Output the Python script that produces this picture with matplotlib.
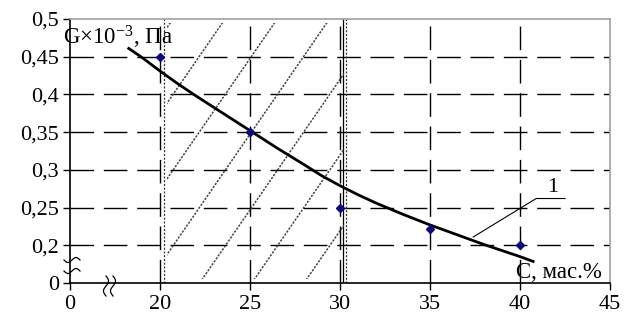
import numpy as np
import matplotlib
matplotlib.use("Agg")
import matplotlib.pyplot as plt
from matplotlib.lines import Line2D
from matplotlib.patches import Rectangle

plt.rcParams['font.family'] = ['Liberation Serif', 'DejaVu Serif']
plt.rcParams['mathtext.fontset'] = 'custom'
plt.rcParams['mathtext.rm'] = 'Liberation Serif'
plt.rcParams['mathtext.it'] = 'Liberation Serif'
plt.rcParams['lines.scale_dashes'] = False

# ---- data ----
conc_points = [20, 25, 30, 35, 40]
g_points = [0.45, 0.35, 0.25, 0.222, 0.2]

curve_conc = [18.2, 19.0, 20.0, 21.0, 22.0, 23.5, 25.0, 26.5, 28.0, 29.0, 30.0,
              31.0, 32.0, 33.5, 35.0, 36.5, 38.0, 39.0, 40.0, 40.8]
curve_g = [0.462, 0.449, 0.431, 0.414, 0.398, 0.375, 0.352, 0.329, 0.307, 0.292, 0.279,
           0.267, 0.256, 0.241, 0.227, 0.214, 0.201, 0.193, 0.185, 0.178]

x_tick_vals = [15, 20, 25, 30, 35, 40, 45]
x_tick_labels = ['0', '20', '25', '30', '35', '40', '45']
y_tick_vals = [0.15, 0.2, 0.25, 0.3, 0.35, 0.4, 0.45, 0.5]
y_tick_labels = ['0', '0,2', '0,25', '0,3', '0,35', '0,4', '0,45', '0,5']

zone_left = 20.22
zone_right = 30.35

# ---- figure ----
W, H = 632, 320
fig = plt.figure(figsize=(W / 100, H / 100), dpi=100)
L, R, T, B = 70, 610, 19, 283
ax = fig.add_axes([L / W, (H - B) / H, (R - L) / W, (B - T) / H])
ax.set_xlim(15, 45)
ax.set_ylim(0.15, 0.5)

dash = (0, (17, 7))
for yv in y_tick_vals[1:-1]:
    ax.axhline(yv, color='black', lw=1.0, ls=dash, zorder=1)
for xv in x_tick_vals[1:-1]:
    ax.axvline(xv, color='black', lw=1.0, ls=dash, zorder=1)

# zone boundaries
ax.axvline(zone_left, color='#333333', lw=0.9, ls=(0, (1.5, 1.2)), zorder=1)
ax.axvline(30.15, color='black', lw=0.9, zorder=1)
ax.axvline(zone_right, color='#333333', lw=0.9, ls=(0, (1.5, 1.2)), zorder=1)

# hatch lines
s_px = 1.45
px_x = (R - L) / 30.0
px_y = (B - T) / 0.35
m = s_px * px_x / px_y
spacing = 2.9
starts = np.arange(22.2 - 6 * spacing, 31, spacing)
clip = Rectangle((zone_left + 0.15, 0.155), zone_right - zone_left - 0.3, 0.34,
                 transform=ax.transData, visible=False)
ax.add_patch(clip)
for b in starts:
    xs = np.array([b, b + 0.35 / m])
    ys = 0.15 + m * (xs - b)
    ln, = ax.plot(xs, ys, color='#444444', lw=1.1, ls=(0, (1.6, 1.0)), zorder=1)
    ln.set_clip_path(clip)

# curve and points
ax.plot(curve_conc, curve_g, color='black', lw=2.0, zorder=3, solid_capstyle='butt')
ax.plot(conc_points, g_points, ls='none', marker='D', ms=4, color='#0a0a80',
        mec='#0a0a80', zorder=4, clip_on=False)

# leader for label 1
ax.plot([37.4, 40.9, 42.5], [0.211, 0.262, 0.262], color='black', lw=0.8, zorder=3)
ax.text(41.8, 0.264, '1', fontsize=16, ha='center', va='bottom')

# ticks
ax.set_xticks(x_tick_vals)
ax.set_xticklabels(x_tick_labels)
ax.set_yticks(y_tick_vals)
ax.set_yticklabels(y_tick_labels)
ax.tick_params(axis='both', direction='out', length=5, width=1.0, colors='black',
               labelsize=16)
ax.tick_params(axis='y', pad=3)
ax.tick_params(axis='x', pad=3.5)

for sp in ['top', 'right']:
    ax.spines[sp].set_color('#a0a0a0')
    ax.spines[sp].set_linewidth(1.2)
for sp in ['left', 'bottom']:
    ax.spines[sp].set_color('black')
    ax.spines[sp].set_linewidth(1.2)

# axis titles
ax.text(-0.013, 0.905, r'G×10$^{\mathrm{-3}}$, Па', transform=ax.transAxes,
        fontsize=16.5, ha='left', va='baseline', zorder=5)
ax.text(0.826, 0.02, 'С, мас.%', transform=ax.transAxes,
        fontsize=16.5, ha='left', va='baseline', zorder=5, clip_on=False)

# axis break marks (decoration), in figure pixels
def squiggle(cx, cy, w, h, vertical=False):
    t = np.linspace(0, 1, 40)
    if not vertical:
        xs = cx - w / 2 + w * t
        ys = cy + h / 2 * np.sin(2 * np.pi * t)
    else:
        ys = cy - h / 2 + h * t
        xs = cx + w / 2 * np.sin(2 * np.pi * t)
    fig.add_artist(Line2D(xs / W, (H - ys) / H, transform=fig.transFigure,
                          color='black', lw=0.9))

squiggle(72, 260, 16, 5)
squiggle(72, 271, 16, 5)
squiggle(106, 286, 5, 20, vertical=True)
squiggle(113, 286, 5, 20, vertical=True)

fig.savefig('out.png', dpi=100)
